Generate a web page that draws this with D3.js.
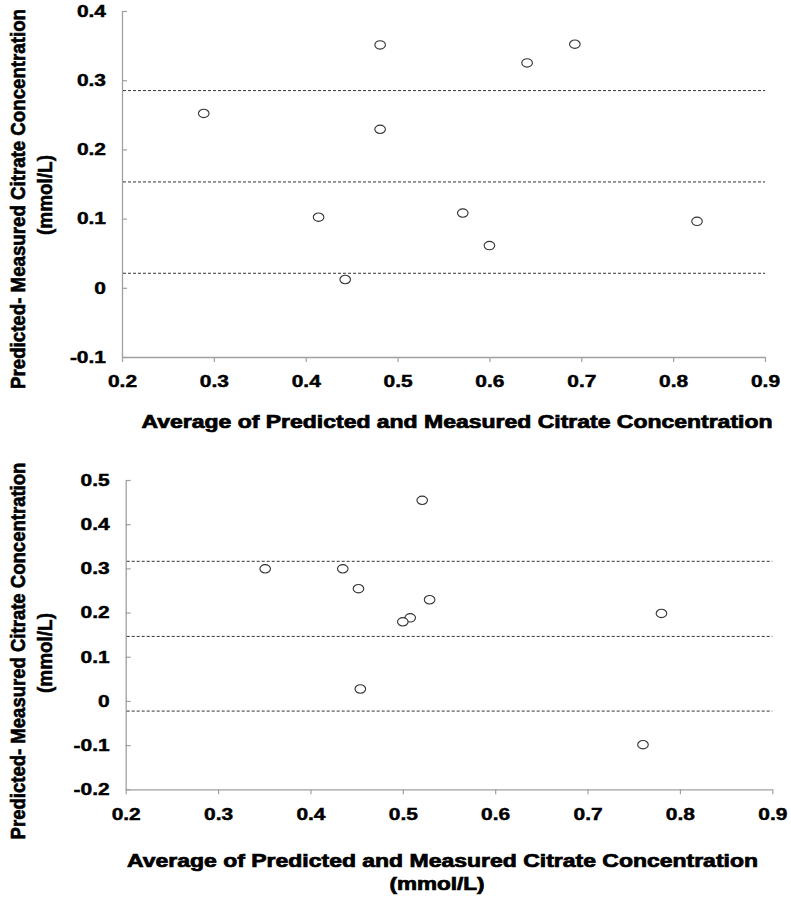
<!DOCTYPE html>
<html>
<head>
<meta charset="utf-8">
<script src="https://cdn.jsdelivr.net/npm/d3@7"></script>
<style>
  html, body { margin: 0; padding: 0; background: #fff; }
  text { font-family: "Liberation Sans", Arial, sans-serif; font-weight: bold; fill: #000; }
</style>
</head>
<body>
<svg id="chart" width="791" height="899"></svg>
<script>
// ---- data ----
const xTicks = [0.2, 0.3, 0.4, 0.5, 0.6, 0.7, 0.8, 0.9];
const topYTicks = [-0.1, 0, 0.1, 0.2, 0.3, 0.4];
const bottomYTicks = [-0.2, -0.1, 0, 0.1, 0.2, 0.3, 0.4, 0.5];

const topX = [0.289, 0.481, 0.481, 0.414, 0.443, 0.641, 0.693, 0.571, 0.600, 0.826];
const topY = [0.252, 0.351, 0.229, 0.102, 0.012, 0.325, 0.352, 0.108, 0.061, 0.096];
const topLines = [0.285, 0.153, 0.021];

const bottomX = [0.351, 0.435, 0.452, 0.454, 0.521, 0.529, 0.508, 0.500, 0.780, 0.760];
const bottomY = [0.299, 0.299, 0.254, 0.027, 0.454, 0.229, 0.188, 0.179, 0.198, -0.099];
const bottomLines = [0.316, 0.146, -0.023];

const yTitle1 = "Predicted- Measured Citrate Concentration";
const yTitle2 = "(mmol/L)";
const xTitle1 = "Average of Predicted and Measured Citrate Concentration";
const xTitle2 = "(mmol/L)";

const svg = d3.select("#chart");
const fmt = v => (Math.abs(v) < 1e-9 ? "0" : v.toFixed(1));

// rotated title: natural length fitted to target, glyph thickness kept via perpendicular scale
function yTitle(g, txt, cx, cy, target, baseSize, sw) {
  const t = g.append("text").attr("text-anchor", "middle").attr("font-size", baseSize).text(txt);
  const L = t.node().getComputedTextLength();
  const k = target / L;
  t.attr("font-size", baseSize * k)
    .attr("stroke", "#000").attr("stroke-width", sw)
    .attr("transform", `translate(${cx},${cy}) rotate(-90) scale(1,${1 / k})`);
}

function panel(cfg) {
  const x = d3.scaleLinear().domain([0.2, 0.9]).range(cfg.xr);
  const y = d3.scaleLinear().domain(cfg.yd).range(cfg.yr);
  const g = svg.append("g");

  // y axis (ticks inward)
  const ya = g.append("g").attr("transform", `translate(${cfg.xr[0]},0)`)
    .call(d3.axisLeft(y).tickValues(cfg.yTicks).tickFormat(fmt).tickSizeInner(-5).tickSizeOuter(0).tickPadding(16));
  // x axis (ticks outward)
  const xa = g.append("g").attr("transform", `translate(0,${cfg.yr[0]})`)
    .call(d3.axisBottom(x).tickValues(xTicks).tickFormat(fmt).tickSizeInner(5).tickSizeOuter(0).tickPadding(13.5));

  [ya, xa].forEach(a => {
    a.select(".domain").attr("stroke", "#a0a0a0").attr("stroke-width", 1.3);
    a.selectAll(".tick line").attr("stroke", "#a0a0a0").attr("stroke-width", 1.2);
    a.selectAll(".tick text").attr("font-size", 16.5).attr("fill", "#000")
      .attr("font-family", "Liberation Sans, Arial, sans-serif").attr("font-weight", "bold")
      .attr("stroke", "#000").attr("stroke-width", 0.45)
      .each(function () {
        const L = this.getComputedTextLength();
        d3.select(this).attr("textLength", L * 1.27).attr("lengthAdjust", "spacingAndGlyphs");
      });
  });

  // dashed reference lines
  g.selectAll("line.ref").data(cfg.lines).join("line").attr("class", "ref")
    .attr("x1", x(0.2) + 1).attr("x2", x(0.9))
    .attr("y1", d => y(d)).attr("y2", d => y(d))
    .attr("stroke", "#333").attr("stroke-width", 1).attr("stroke-dasharray", "3,2");

  // points
  g.selectAll("ellipse").data(cfg.xs.map((v, i) => [v, cfg.ys[i]])).join("ellipse")
    .attr("cx", d => x(d[0])).attr("cy", d => y(d[1]))
    .attr("rx", 5.3).attr("ry", 4.2)
    .attr("fill", "#fff").attr("stroke", "#333").attr("stroke-width", 1.1);

  // y title
  yTitle(g, yTitle1, cfg.yt1[0], cfg.yt1[1], cfg.yt1[2], 20.5, 0.6);
  yTitle(g, yTitle2, cfg.yt2[0], cfg.yt2[1], cfg.yt2[2], 20, 0.5);

  // x title
  g.append("text").attr("x", cfg.xt1[0]).attr("y", cfg.xt1[1])
    .attr("text-anchor", "middle").attr("font-size", 17.5)
    .attr("stroke", "#000").attr("stroke-width", 0.7)
    .attr("textLength", cfg.xt1[2]).attr("lengthAdjust", "spacingAndGlyphs").text(xTitle1);
  if (cfg.xt2) {
    g.append("text").attr("x", cfg.xt2[0]).attr("y", cfg.xt2[1])
      .attr("text-anchor", "middle").attr("font-size", 17.5)
      .attr("stroke", "#000").attr("stroke-width", 0.7)
      .attr("textLength", cfg.xt2[2]).attr("lengthAdjust", "spacingAndGlyphs").text(xTitle2);
  }
}

panel({
  xr: [122, 765], yd: [-0.1, 0.4], yr: [357, 11], yTicks: topYTicks,
  xs: topX, ys: topY, lines: topLines,
  yt1: [25, 199, 380], yt2: [52, 195, 80],
  xt1: [457, 428, 631]
});

panel({
  xr: [125.7, 772.3], yd: [-0.2, 0.5], yr: [789.3, 480], yTicks: bottomYTicks,
  xs: bottomX, ys: bottomY, lines: bottomLines,
  yt1: [25, 651, 377], yt2: [52, 653, 80],
  xt1: [442.5, 867, 631], xt2: [437, 890, 95]
});
</script>
</body>
</html>
